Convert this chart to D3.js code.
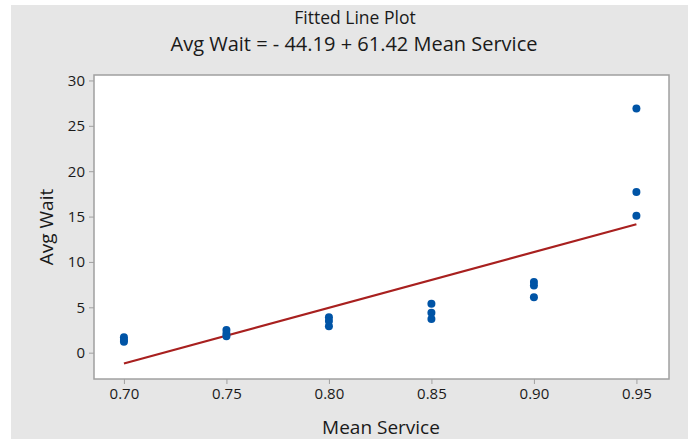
<!DOCTYPE html>
<html>
  <head>
    <meta charset="utf-8">
    <script src="https://d3js.org/d3.v7.min.js"></script>
    <title>Fitted Line Plot</title>
    <style>
      body { margin: 0; background: #fff; }
      text { font-family: "Open Sans", "Noto Sans", sans-serif; fill: #1a1a1a; }
    </style>
  </head>
  <body>

    <svg></svg>

    <script type="text/javascript">

      // data
      var meanService = [0.70, 0.70, 0.70, 0.75, 0.75, 0.75, 0.80, 0.80, 0.80,
                         0.85, 0.85, 0.85, 0.90, 0.90, 0.90, 0.95, 0.95, 0.95];
      var avgWait     = [1.7, 1.4, 1.2, 2.5, 2.1, 1.8, 3.9, 3.5, 2.9,
                         5.4, 4.4, 3.7, 7.8, 7.4, 6.1, 26.9, 17.7, 15.1];
      var intercept = -44.19, slope = 61.42;
      var xTicks = [0.70, 0.75, 0.80, 0.85, 0.90, 0.95];
      var yTicks = [0, 5, 10, 15, 20, 25, 30];

      var width = 688, height = 439;
      var plotLeft = 94, plotRight = 669, plotTop = 75, plotBottom = 379;

      var svg = d3.select("svg")
                  .attr("width", width)
                  .attr("height", height);

      svg.append("rect")
        .attr("x", 11).attr("y", 5)
        .attr("width", width - 11).attr("height", height - 5)
        .attr("fill", "#e6e6e6");

      var x = d3.scaleLinear().domain([0.6854, 0.9659]).range([plotLeft, plotRight]);
      var y = d3.scaleLinear().domain([-2.9, 30.6]).range([plotBottom, plotTop]);

      svg.append("rect")
        .attr("x", plotLeft).attr("y", plotTop)
        .attr("width", plotRight - plotLeft).attr("height", plotBottom - plotTop)
        .attr("fill", "#fff")
        .attr("stroke", "#a0a0a0")
        .attr("stroke-width", 1.5);

      var xAxis = svg.append("g")
        .attr("transform", "translate(0," + plotBottom + ")")
        .call(d3.axisBottom(x).tickValues(xTicks).tickFormat(d3.format(".2f")).tickSize(5).tickPadding(4));
      var yAxis = svg.append("g")
        .attr("transform", "translate(" + plotLeft + ",0)")
        .call(d3.axisLeft(y).tickValues(yTicks).tickSize(5).tickPadding(4));

      [xAxis, yAxis].forEach(function (g) {
        g.select(".domain").remove();
        g.selectAll("line").attr("stroke", "#a0a0a0");
        g.selectAll("text").style("font-size", "15px").attr("fill", "#1a1a1a")
          .style("font-family", "'Open Sans', 'Noto Sans', sans-serif");
      });

      var points = meanService.map((m, i) => ({x: m, y: avgWait[i]}));

      svg.append("line")
        .attr("x1", x(0.70)).attr("y1", y(intercept + slope * 0.70))
        .attr("x2", x(0.95)).attr("y2", y(intercept + slope * 0.95))
        .attr("stroke", "#a8201f")
        .attr("stroke-width", 2.2);

      svg.selectAll("circle")
        .data(points)
        .join("circle")
        .attr("r", 4)
        .attr("cx", d => x(d.x))
        .attr("cy", d => y(d.y))
        .attr("fill", "#0054a6");

      svg.append("text")
        .attr("x", 355).attr("y", 24)
        .attr("text-anchor", "middle")
        .style("font-size", "17.5px")
        .text("Fitted Line Plot");
      svg.append("text")
        .attr("x", 354).attr("y", 51)
        .attr("text-anchor", "middle")
        .style("font-size", "20px")
        .text("Avg Wait = - 44.19 + 61.42 Mean Service");

      svg.append("text")
        .attr("x", 381).attr("y", 434)
        .attr("text-anchor", "middle")
        .style("font-size", "19px")
        .text("Mean Service");
      svg.append("text")
        .attr("transform", "translate(53," + ((plotTop + plotBottom) / 2) + ") rotate(-90)")
        .attr("text-anchor", "middle")
        .style("font-size", "19px")
        .text("Avg Wait");

    </script>
  </body>
</html>
